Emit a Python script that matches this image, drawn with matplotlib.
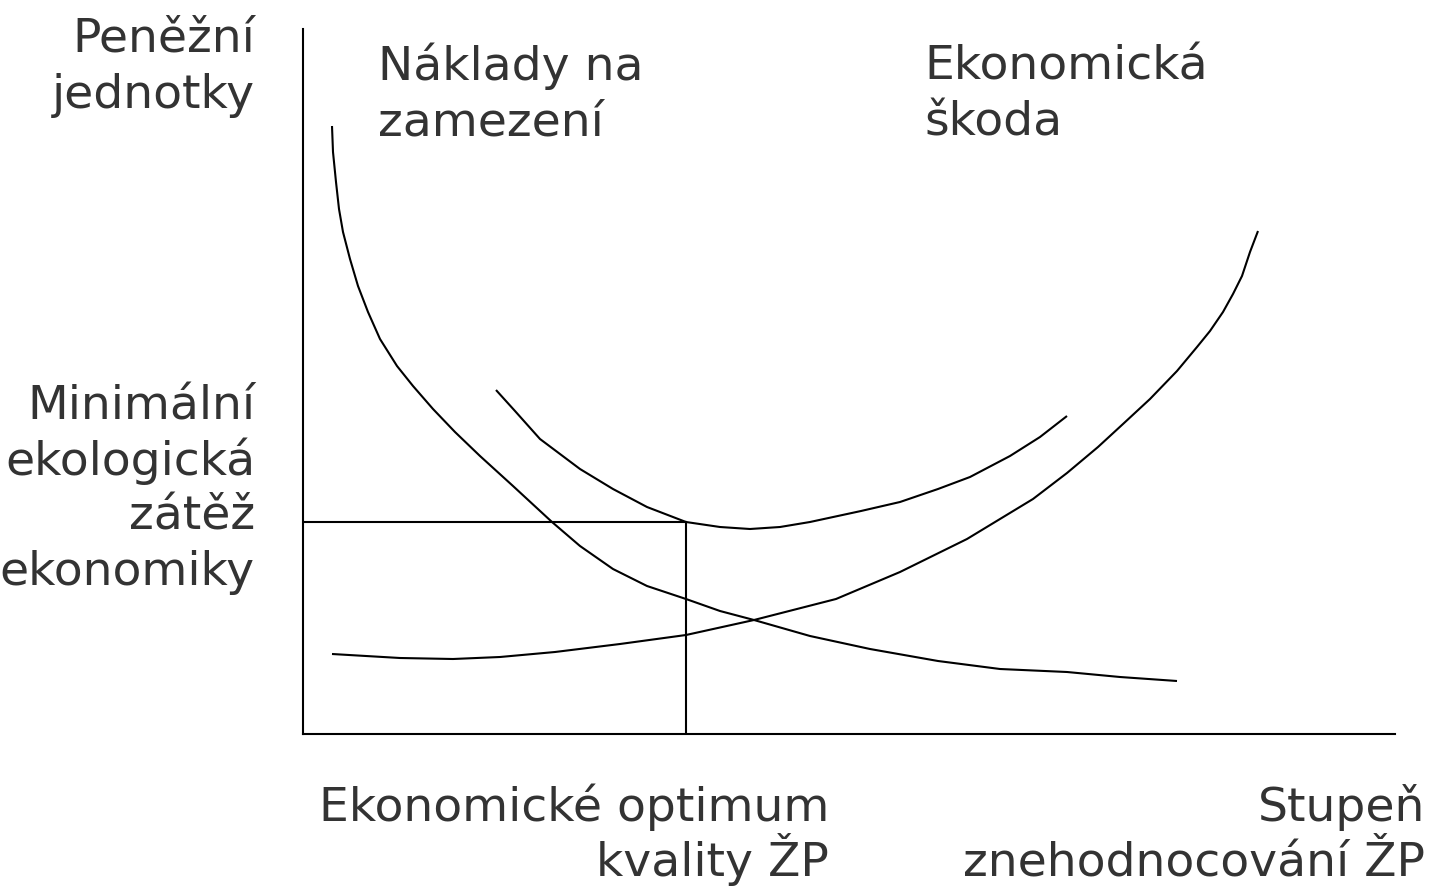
import matplotlib
matplotlib.use('Agg')
import matplotlib.pyplot as plt

# values, origin at the corner of the axes
cost_x = [29, 30, 33, 36, 40, 47, 55, 65, 77, 94, 110, 130, 152, 177, 210, 249, 277,
          310, 344, 383, 417, 451, 507, 567, 635, 697, 764, 817, 874]
cost_y = [608, 582, 552, 525, 502, 475, 448, 422, 395, 368, 348, 325, 302, 278, 248, 212, 188,
          165, 148, 135, 123, 114, 98, 85, 73, 65, 62, 57, 53]

damage_x = [29, 97, 150, 197, 252, 317, 383, 451, 533, 597, 664, 730, 764, 795, 820, 847,
            874, 894, 907, 920, 930, 939, 947, 955]
damage_y = [80, 76, 75, 77, 82, 90, 99, 114, 135, 162, 195, 235, 261, 287, 310, 335,
            363, 387, 403, 422, 440, 458, 482, 503]

total_x = [193, 212, 237, 277, 310, 344, 383, 417, 447, 477, 507, 558, 597, 635,
           667, 707, 737, 764]
total_y = [344, 323, 295, 265, 245, 227, 212, 207, 205, 207, 212, 223, 232, 245,
           257, 278, 297, 318]

opt_x = 383
opt_y = 212

x_max = 1092
y_max = 705

TEXT_COLOR = '#333333'
FONT_SIZE = 34
LW = 1.5

fig = plt.figure(figsize=(14.41, 8.87), dpi=100)
ax = fig.add_axes([303 / 1441, 152 / 887, 1092 / 1441, 705 / 887])
ax.set_xlim(0, x_max)
ax.set_ylim(0, y_max)
ax.spines['top'].set_visible(False)
ax.spines['right'].set_visible(False)
for side in ('left', 'bottom'):
    ax.spines[side].set_linewidth(LW)
    ax.spines[side].set_color('black')
ax.set_xticks([])
ax.set_yticks([])

for xs, ys in ((cost_x, cost_y), (damage_x, damage_y), (total_x, total_y)):
    ax.plot(xs, ys, color='black', lw=LW, solid_capstyle='butt', solid_joinstyle='round')

# optimum guide lines
ax.plot([0, opt_x], [opt_y, opt_y], color='black', lw=LW)
ax.plot([opt_x, opt_x], [0, opt_y], color='black', lw=LW)


def label(x, baselines, lines, ha):
    # one text per line so every line sits on its own baseline
    for y, s in zip(baselines, lines):
        fig.text(x / 1441, 1 - y / 887, s, ha=ha, va='baseline',
                 fontsize=FONT_SIZE, color=TEXT_COLOR)


label(255, [52, 108], ['Peněžní', 'jednotky'], 'right')
label(255, [420, 475, 530, 585], ['Minimální', 'ekologická', 'zátěž', 'ekonomiky'], 'right')
label(378, [80, 135], ['Náklady na', 'zamezení'], 'left')
label(924, [80, 135], ['Ekonomická', 'škoda'], 'left')
label(829, [821, 876], ['Ekonomické optimum', 'kvality ŽP'], 'right')
label(1425, [821, 876], ['Stupeň', 'znehodnocování ŽP'], 'right')

fig.savefig('out.png', dpi=100)
